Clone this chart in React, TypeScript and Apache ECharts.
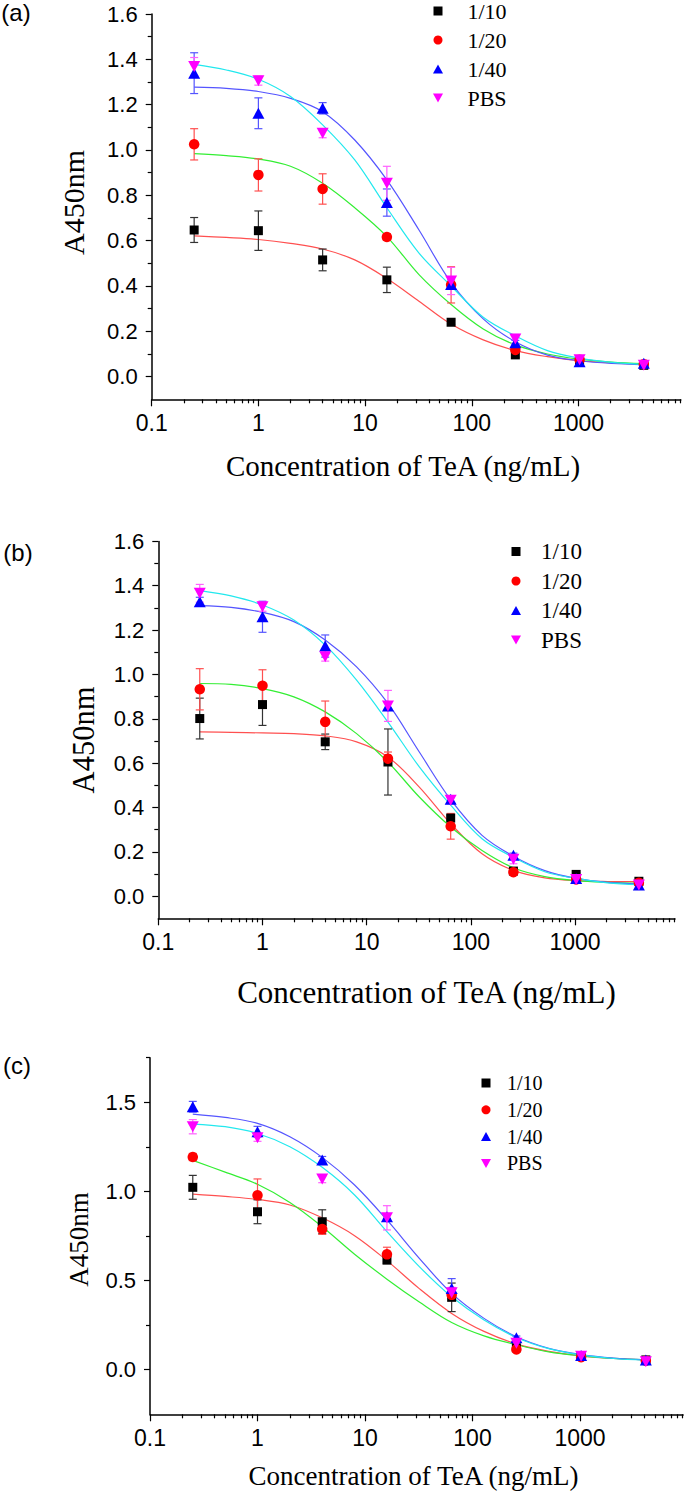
import React, { useEffect, useRef } from "react";
import * as echarts from "echarts";

// ---------------- data ----------------
const conc = [0.25, 1, 4, 16, 64, 256, 1024, 4096];
const fitConc = [0.25, 0.5, 1, 2, 4, 8, 16, 32, 64, 128, 256, 512, 1024, 2048, 4096];
const seriesNames = ["1/10", "1/20", "1/40", "PBS"];
const xTickLabels = [0.1, 1, 10, 100, 1000];
const xMinorTicks = [
  0.2, 0.3, 0.4, 0.5, 0.6, 0.7, 0.8, 0.9,
  2, 3, 4, 5, 6, 7, 8, 9,
  20, 30, 40, 50, 60, 70, 80, 90,
  200, 300, 400, 500, 600, 700, 800, 900,
  2000, 3000, 4000, 5000, 6000, 7000, 8000, 9000,
];
const yTicksAB = [0, 0.2, 0.4, 0.6, 0.8, 1.0, 1.2, 1.4, 1.6];
const yMinorAB = [0.1, 0.3, 0.5, 0.7, 0.9, 1.1, 1.3, 1.5];
const yTicksC = [0, 0.5, 1.0, 1.5];
const yMinorC = [0.25, 0.75, 1.25, 1.75];

// panel (a)
const a_1_10 = [0.647, 0.644, 0.515, 0.427, 0.240, 0.096, 0.065, 0.050];
const a_1_10_err = [0.055, 0.087, 0.048, 0.056, 0.010, 0.010, 0.005, 0.005];
const a_1_20 = [1.025, 0.890, 0.828, 0.616, 0.405, 0.118, 0.075, 0.055];
const a_1_20_err = [0.069, 0.071, 0.067, 0.015, 0.080, 0.010, 0.008, 0.005];
const a_1_40 = [1.339, 1.162, 1.184, 0.768, 0.407, 0.150, 0.066, 0.059];
const a_1_40_err = [0.090, 0.068, 0.025, 0.060, 0.020, 0.010, 0.005, 0.005];
const a_pbs = [1.368, 1.306, 1.074, 0.853, 0.422, 0.166, 0.075, 0.050];
const a_pbs_err = [0.040, 0.020, 0.020, 0.075, 0.060, 0.020, 0.008, 0.005];
const a_fit_1_10 = [0.621, 0.614, 0.605, 0.588, 0.563, 0.515, 0.433, 0.333, 0.232, 0.162, 0.115, 0.088, 0.070, 0.061, 0.055];
const a_fit_1_20 = [0.984, 0.975, 0.960, 0.928, 0.853, 0.745, 0.618, 0.450, 0.318, 0.210, 0.140, 0.100, 0.077, 0.064, 0.057];
const a_fit_1_40 = [1.277, 1.272, 1.258, 1.228, 1.169, 1.044, 0.868, 0.647, 0.415, 0.255, 0.154, 0.095, 0.070, 0.058, 0.053];
const a_fit_pbs = [1.378, 1.353, 1.312, 1.236, 1.111, 0.956, 0.745, 0.545, 0.400, 0.262, 0.180, 0.115, 0.082, 0.063, 0.054];

// panel (b)
const b_1_10 = [0.801, 0.864, 0.696, 0.605, 0.352, 0.113, 0.098, 0.067];
const b_1_10_err = [0.092, 0.094, 0.035, 0.149, 0.010, 0.010, 0.008, 0.005];
const b_1_20 = [0.933, 0.949, 0.786, 0.620, 0.315, 0.108, 0.075, 0.060];
const b_1_20_err = [0.093, 0.072, 0.094, 0.030, 0.058, 0.010, 0.008, 0.005];
const b_1_40 = [1.328, 1.260, 1.128, 0.858, 0.437, 0.184, 0.080, 0.050];
const b_1_40_err = [0.020, 0.070, 0.050, 0.015, 0.015, 0.010, 0.008, 0.005];
const b_pbs = [1.366, 1.305, 1.080, 0.858, 0.432, 0.166, 0.075, 0.050];
const b_pbs_err = [0.040, 0.020, 0.020, 0.070, 0.015, 0.020, 0.008, 0.005];
const b_fit_1_10 = [0.741, 0.739, 0.736, 0.733, 0.723, 0.696, 0.628, 0.492, 0.327, 0.191, 0.116, 0.082, 0.070, 0.066, 0.065];
const b_fit_1_20 = [0.959, 0.955, 0.936, 0.899, 0.831, 0.733, 0.605, 0.447, 0.312, 0.206, 0.128, 0.088, 0.070, 0.062, 0.058];
const b_fit_1_40 = [1.310, 1.302, 1.280, 1.238, 1.155, 1.034, 0.869, 0.650, 0.435, 0.274, 0.180, 0.115, 0.080, 0.062, 0.055];
const b_fit_pbs = [1.378, 1.354, 1.313, 1.245, 1.132, 0.974, 0.785, 0.583, 0.410, 0.259, 0.175, 0.110, 0.080, 0.060, 0.052];

// panel (c)
const c_1_10 = [1.023, 0.886, 0.830, 0.615, 0.406, 0.123, 0.075, 0.055];
const c_1_10_err = [0.067, 0.067, 0.067, 0.020, 0.080, 0.010, 0.008, 0.005];
const c_1_20 = [1.193, 0.978, 0.789, 0.647, 0.420, 0.114, 0.070, 0.050];
const c_1_20_err = [0.020, 0.092, 0.030, 0.040, 0.030, 0.010, 0.008, 0.005];
const c_1_40 = [1.475, 1.335, 1.176, 0.858, 0.456, 0.179, 0.080, 0.055];
const c_1_40_err = [0.030, 0.030, 0.020, 0.010, 0.055, 0.010, 0.008, 0.005];
const c_pbs = [1.363, 1.301, 1.069, 0.852, 0.432, 0.148, 0.075, 0.045];
const c_pbs_err = [0.040, 0.020, 0.020, 0.068, 0.030, 0.020, 0.008, 0.005];
const c_fit_1_10 = [0.985, 0.972, 0.955, 0.924, 0.852, 0.752, 0.612, 0.455, 0.316, 0.215, 0.145, 0.103, 0.078, 0.063, 0.055];
const c_fit_1_20 = [1.174, 1.108, 1.040, 0.938, 0.802, 0.648, 0.508, 0.380, 0.265, 0.190, 0.140, 0.100, 0.078, 0.064, 0.056];
const c_fit_1_40 = [1.434, 1.415, 1.382, 1.307, 1.191, 1.036, 0.840, 0.625, 0.428, 0.288, 0.185, 0.120, 0.085, 0.065, 0.055];
const c_fit_pbs = [1.378, 1.363, 1.325, 1.251, 1.135, 0.980, 0.774, 0.578, 0.409, 0.279, 0.181, 0.118, 0.083, 0.063, 0.053];

// ---------------- styles ----------------
const markerColors = ["#000000", "#ff0000", "#0000ff", "#ff00ff"];
const errColors = ["#333333", "#ff5050", "#5555ff", "#ff60ff"];
const fitColors = ["#ff5050", "#33ee33", "#5555ff", "#22e8ee"];
const invTri = "path://M0,0 L10,0 L5,9 Z";
const symbols = ["rect", "circle", "triangle", invTri];
const legendIcons = ["path://M0,0 L10,0 L10,10 L0,10 Z", "circle", "path://M5,0 L10,9 L0,9 Z", invTri];
const symbolSizes = [9, 10.5, [12, 11], [12, 11]];
const SANS = "'Liberation Sans', Arial, sans-serif";
const SERIF = "'Liberation Serif', 'Times New Roman', serif";

const X_MIN = 0.1;
const X_MAX = 9100;

type PanelDef = {
  label: string;
  vals: number[][];
  errs: number[][];
  fits: number[][];
  grid: { left: number; top: number; width: number; height: number };
  yMin: number;
  yMax: number;
  yTicks: number[];
  yMinor: number[];
  legend: { left: number; top: number; gap: number; boxW: number; font: number };
  labelPos: [number, number];
  xTitle: [number, number, number];
  yTitle: [number, number, number];
};

const panels: PanelDef[] = [
  {
    label: "(a)",
    vals: [a_1_10, a_1_20, a_1_40, a_pbs],
    errs: [a_1_10_err, a_1_20_err, a_1_40_err, a_pbs_err],
    fits: [a_fit_1_10, a_fit_1_20, a_fit_1_40, a_fit_pbs],
    grid: { left: 151.7, top: 14, width: 529.1, height: 385.3 },
    yMin: -0.1,
    yMax: 1.6,
    yTicks: yTicksAB,
    yMinor: yMinorAB,
    legend: { left: 433, top: 0, gap: 7, boxW: 48.8, font: 22 },
    labelPos: [16, 12],
    xTitle: [403, 466, 29],
    yTitle: [73, 202.5, 30],
  },
  {
    label: "(b)",
    vals: [b_1_10, b_1_20, b_1_40, b_pbs],
    errs: [b_1_10_err, b_1_20_err, b_1_40_err, b_pbs_err],
    fits: [b_fit_1_10, b_fit_1_20, b_fit_1_40, b_fit_pbs],
    grid: { left: 158.3, top: 541.4, width: 516.7, height: 376.9 },
    yMin: -0.1,
    yMax: 1.6,
    yTicks: yTicksAB,
    yMinor: yMinorAB,
    legend: { left: 511, top: 540, gap: 6.5, boxW: 40, font: 23 },
    labelPos: [18, 552],
    xTitle: [426.5, 992, 31],
    yTitle: [84, 740, 30.5],
  },
  {
    label: "(c)",
    vals: [c_1_10, c_1_20, c_1_40, c_pbs],
    errs: [c_1_10_err, c_1_20_err, c_1_40_err, c_pbs_err],
    fits: [c_fit_1_10, c_fit_1_20, c_fit_1_40, c_fit_pbs],
    grid: { left: 150, top: 1057.7, width: 533.1, height: 356.6 },
    yMin: -0.25,
    yMax: 1.75,
    yTicks: yTicksC,
    yMinor: yMinorC,
    legend: { left: 481, top: 1073, gap: 6.8, boxW: 32, font: 20 },
    labelPos: [17, 1065],
    xTitle: [413.5, 1476, 27],
    yTitle: [79, 1239.5, 27],
  },
];

function buildOption() {
  const grid: any[] = [];
  const xAxis: any[] = [];
  const yAxis: any[] = [];
  const series: any[] = [];
  const legend: any[] = [];
  const graphic: any[] = [];

  panels.forEach((p, pi) => {
    grid.push({ ...p.grid, outerBoundsMode: "none", containLabel: false });
    const mainX = xAxis.length;
    xAxis.push({
      type: "log",
      gridIndex: pi,
      position: "bottom",
      min: X_MIN,
      max: X_MAX,
      logBase: 10,
      axisLine: { show: true, onZero: false, lineStyle: { color: "#000", width: 1.5 } },
      axisTick: { show: true, inside: false, length: 7, customValues: xTickLabels, lineStyle: { color: "#000", width: 1.2 } },
      axisLabel: {
        show: true,
        customValues: xTickLabels,
        margin: 12,
        color: "#000",
        fontFamily: SANS,
        fontSize: 23,
        formatter: (v: number) => {
          const l = Math.round(Math.log10(v));
          return l < 0 ? "0.1" : String(Math.pow(10, l));
        },
      },
      splitLine: { show: false },
      minorTick: { show: false },
    });
    xAxis.push({
      type: "log",
      gridIndex: pi,
      position: "bottom",
      min: X_MIN,
      max: X_MAX,
      logBase: 10,
      axisLine: { show: false, onZero: false },
      axisTick: { show: true, inside: false, length: 4, customValues: xMinorTicks, lineStyle: { color: "#000", width: 1.2 } },
      axisLabel: { show: false },
      splitLine: { show: false },
    });
    const mainY = yAxis.length;
    yAxis.push({
      type: "value",
      gridIndex: pi,
      position: "left",
      min: p.yMin,
      max: p.yMax,
      axisLine: { show: true, onZero: false, lineStyle: { color: "#000", width: 1.5 } },
      axisTick: { show: true, inside: false, length: 6, customValues: p.yTicks, lineStyle: { color: "#000", width: 1.2 } },
      axisLabel: {
        show: true,
        customValues: p.yTicks,
        margin: 14,
        color: "#000",
        fontFamily: SANS,
        fontSize: 22,
        formatter: (v: number) => v.toFixed(1),
      },
      splitLine: { show: false },
    });
    yAxis.push({
      type: "value",
      gridIndex: pi,
      position: "left",
      min: p.yMin,
      max: p.yMax,
      axisLine: { show: false, onZero: false },
      axisTick: { show: true, inside: false, length: 4, customValues: p.yMinor, lineStyle: { color: "#000", width: 1.2 } },
      axisLabel: { show: false },
      splitLine: { show: false },
    });

    // fitted curves
    p.fits.forEach((f, k) => {
      series.push({
        name: "fit " + seriesNames[k] + " " + p.label,
        type: "line",
        xAxisIndex: mainX,
        yAxisIndex: mainY,
        data: fitConc.map((x, i) => [x, f[i]]),
        smooth: 0.35,
        showSymbol: false,
        symbol: "none",
        lineStyle: { color: fitColors[k], width: 1.2 },
        itemStyle: { color: fitColors[k] },
        z: 2,
        silent: true,
      });
    });
    // error bars
    p.vals.forEach((v, k) => {
      const errs = p.errs[k];
      const col = errColors[k];
      series.push({
        name: "err " + seriesNames[k] + " " + p.label,
        type: "custom",
        xAxisIndex: mainX,
        yAxisIndex: mainY,
        dimensions: ["x", "y", "e"],
        encode: { x: 0, y: 1 },
        data: conc.map((x, i) => [x, v[i], errs[i]]),
        renderItem: (params: any, api: any) => {
          const x = api.value(0);
          const y = api.value(1);
          const e = api.value(2);
          const top = api.coord([x, y + e]);
          const bot = api.coord([x, y - e]);
          const hw = 4;
          const style = { stroke: col, lineWidth: 1.2, fill: null };
          return {
            type: "group",
            children: [
              { type: "line", shape: { x1: top[0], y1: top[1], x2: bot[0], y2: bot[1] }, style },
              { type: "line", shape: { x1: top[0] - hw, y1: top[1], x2: top[0] + hw, y2: top[1] }, style },
              { type: "line", shape: { x1: bot[0] - hw, y1: bot[1], x2: bot[0] + hw, y2: bot[1] }, style },
            ],
          };
        },
        z: 3,
        silent: true,
      });
    });
    // markers
    p.vals.forEach((v, k) => {
      series.push({
        name: seriesNames[k],
        type: "scatter",
        xAxisIndex: mainX,
        yAxisIndex: mainY,
        data: conc.map((x, i) => [x, v[i]]),
        symbol: symbols[k],
        symbolSize: symbolSizes[k],
        itemStyle: { color: markerColors[k], opacity: 1 },
        z: 4 + k,
        silent: true,
      });
    });

    legend.push({
      orient: "vertical",
      left: p.legend.left,
      top: p.legend.top,
      padding: 0,
      itemWidth: p.legend.boxW,
      itemHeight: 9,
      itemGap: p.legend.gap,
      symbolKeepAspect: true,
      selectedMode: false,
      textStyle: { fontFamily: SERIF, fontSize: p.legend.font, color: "#000" },
      data: seriesNames.map((n, k) => ({ name: n, icon: legendIcons[k] })),
    });

    graphic.push({
      type: "text",
      x: p.labelPos[0],
      y: p.labelPos[1],
      style: {
        text: p.label,
        font: `24px ${SANS}`,
        fill: "#000",
        align: "center",
        verticalAlign: "middle",
        textAlign: "center",
        textVerticalAlign: "middle",
      },
    });
    graphic.push({
      type: "text",
      x: p.xTitle[0],
      y: p.xTitle[1],
      style: {
        text: "Concentration of TeA (ng/mL)",
        font: `${p.xTitle[2]}px ${SERIF}`,
        fill: "#000",
        align: "center",
        verticalAlign: "middle",
        textAlign: "center",
        textVerticalAlign: "middle",
      },
    });
    graphic.push({
      type: "text",
      x: p.yTitle[0],
      y: p.yTitle[1],
      rotation: Math.PI / 2,
      style: {
        text: "A450nm",
        font: `${p.yTitle[2]}px ${SERIF}`,
        fill: "#000",
        align: "center",
        verticalAlign: "middle",
        textAlign: "center",
        textVerticalAlign: "middle",
      },
    });
  });

  return {
    animation: false,
    backgroundColor: "#ffffff",
    grid,
    xAxis,
    yAxis,
    series,
    legend,
    graphic,
  };
}

export default function App() {
  const ref = useRef<HTMLDivElement>(null);
  useEffect(() => {
    if (!ref.current) return;
    const chart = echarts.init(ref.current, undefined, { renderer: "svg" });
    chart.setOption(buildOption() as any);
    return () => chart.dispose();
  }, []);
  return (
    <div
      ref={ref}
      style={{ position: "absolute", left: 0, top: 0, width: 685, height: 1492, background: "#fff" }}
    />
  );
}
